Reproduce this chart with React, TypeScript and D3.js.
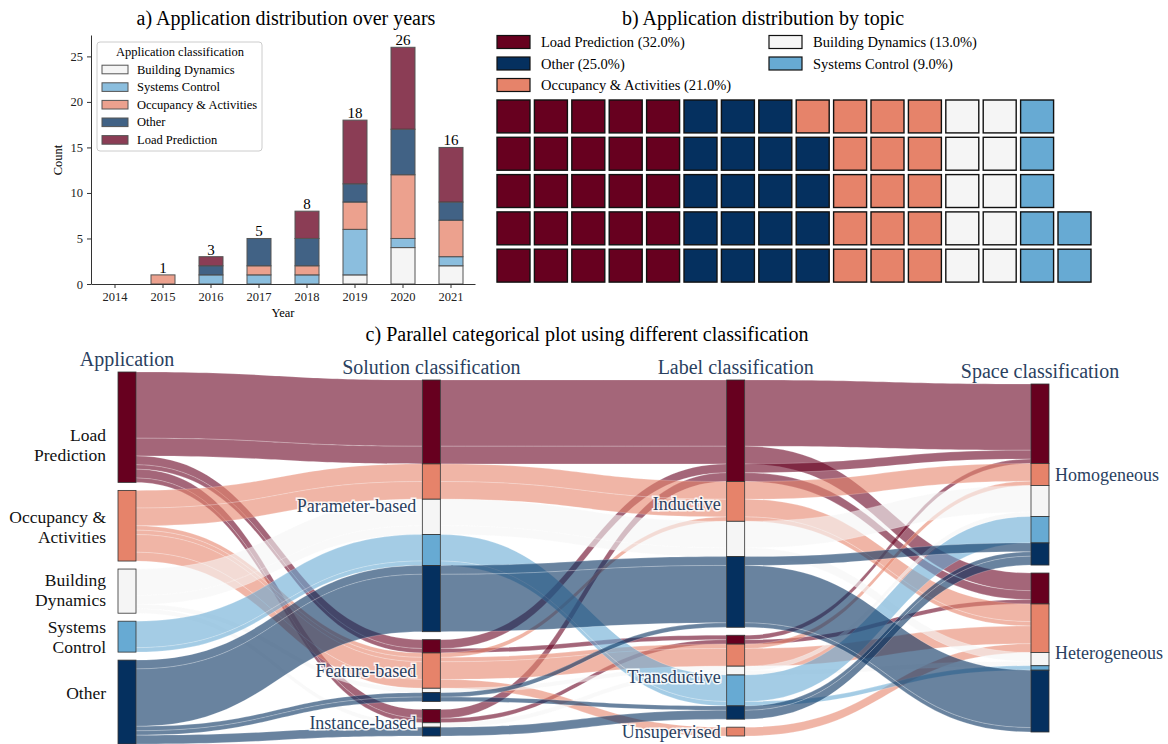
import React, { useEffect, useRef } from 'react';
import * as d3 from 'd3';

// ---- a) application counts per year (stacked) ----
const years = ['2014', '2015', '2016', '2017', '2018', '2019', '2020', '2021'];
const buildingDynamics = [0, 0, 0, 0, 0, 1, 4, 2];
const systemsControl = [0, 0, 1, 1, 1, 5, 1, 1];
const occupancyActivities = [0, 1, 0, 1, 1, 3, 7, 4];
const otherApps = [0, 0, 1, 3, 3, 2, 5, 2];
const loadPrediction = [0, 0, 1, 0, 3, 7, 9, 6];
const totalLabels = ['', '1', '3', '5', '8', '18', '26', '16'];
const yTicks = [0, 5, 10, 15, 20, 25];

// ---- b) waffle ----
const waffleNames = ['Load Prediction', 'Other', 'Occupancy & Activities', 'Building Dynamics', 'Systems Control'];
const wafflePct = ['32.0%', '25.0%', '21.0%', '13.0%', '9.0%'];
const waffleCounts = [25, 19, 16, 10, 7];

// ---- c) parallel categories ----
const appCats = ['Load Prediction', 'Occupancy & Activities', 'Building Dynamics', 'Systems Control', 'Other'];
const solutionCats = ['Parameter-based', 'Feature-based', 'Instance-based'];
const labelCats = ['Inductive', 'Transductive', 'Unsupervised'];
const spaceCats = ['Homogeneous', 'Heterogeneous'];
const dimTitles = ['Application', 'Solution classification', 'Label classification', 'Space classification'];

// application, solution, label, space, number of papers
const paperPaths: [string, string, string, string, number][] = [
  ['Load Prediction', 'Parameter-based', 'Inductive', 'Homogeneous', 15],
  ['Load Prediction', 'Parameter-based', 'Inductive', 'Heterogeneous', 4],
  ['Load Prediction', 'Feature-based', 'Inductive', 'Homogeneous', 2],
  ['Load Prediction', 'Feature-based', 'Transductive', 'Homogeneous', 1],
  ['Load Prediction', 'Instance-based', 'Inductive', 'Heterogeneous', 2],
  ['Load Prediction', 'Instance-based', 'Transductive', 'Heterogeneous', 1],
  ['Occupancy & Activities', 'Parameter-based', 'Inductive', 'Homogeneous', 4],
  ['Occupancy & Activities', 'Parameter-based', 'Inductive', 'Heterogeneous', 4],
  ['Occupancy & Activities', 'Feature-based', 'Inductive', 'Heterogeneous', 1],
  ['Occupancy & Activities', 'Feature-based', 'Transductive', 'Homogeneous', 1],
  ['Occupancy & Activities', 'Feature-based', 'Transductive', 'Heterogeneous', 4],
  ['Occupancy & Activities', 'Feature-based', 'Unsupervised', 'Heterogeneous', 2],
  ['Building Dynamics', 'Parameter-based', 'Inductive', 'Homogeneous', 6],
  ['Building Dynamics', 'Parameter-based', 'Inductive', 'Heterogeneous', 2],
  ['Building Dynamics', 'Feature-based', 'Transductive', 'Homogeneous', 1],
  ['Building Dynamics', 'Instance-based', 'Transductive', 'Heterogeneous', 1],
  ['Systems Control', 'Parameter-based', 'Transductive', 'Homogeneous', 6],
  ['Systems Control', 'Parameter-based', 'Transductive', 'Heterogeneous', 1],
  ['Other', 'Parameter-based', 'Inductive', 'Homogeneous', 2],
  ['Other', 'Parameter-based', 'Inductive', 'Heterogeneous', 13],
  ['Other', 'Feature-based', 'Inductive', 'Heterogeneous', 1],
  ['Other', 'Feature-based', 'Transductive', 'Homogeneous', 1],
  ['Other', 'Instance-based', 'Transductive', 'Homogeneous', 2],
];

const colors: Record<string, string> = {
  'Load Prediction': '#67001f',
  'Occupancy & Activities': '#e6836a',
  'Building Dynamics': '#f5f5f5',
  'Systems Control': '#67aad3',
  'Other': '#05305f',
};

const FONT = "'Liberation Serif', 'Times New Roman', Times, serif";

const App = () => {
  const svgRef = useRef<SVGSVGElement>(null);

  useEffect(() => {
    const svg = d3.select(svgRef.current);
    svg.selectAll('*').remove();

    // ================= a) stacked bars =================
    const stackKeys = ['Building Dynamics', 'Systems Control', 'Occupancy & Activities', 'Other', 'Load Prediction'];
    const series = [buildingDynamics, systemsControl, occupancyActivities, otherApps, loadPrediction];
    const rows = years.map((yr, i) => {
      const r: any = { year: yr };
      stackKeys.forEach((k, j) => (r[k] = series[j][i]));
      return r;
    });
    const stacked = d3.stack().keys(stackKeys)(rows);

    const x = d3.scaleBand().domain(years).range([91, 475]).paddingInner(0.5).paddingOuter(0.25);
    const y = d3.scaleLinear().domain([0, 27.35]).range([284, 35]);

    const ga = svg.append('g');
    ga.append('text').attr('x', 286).attr('y', 25).attr('text-anchor', 'middle')
      .attr('font-size', 20).text('a) Application distribution over years');

    stacked.forEach(layer => {
      ga.append('g').selectAll('rect')
        .data(layer.filter(d => d[1] - d[0] > 0))
        .enter().append('rect')
        .attr('x', d => x(d.data.year as any)!)
        .attr('width', x.bandwidth())
        .attr('y', d => y(d[1]))
        .attr('height', d => y(d[0]) - y(d[1]))
        .attr('fill', colors[layer.key])
        .attr('fill-opacity', layer.key === 'Building Dynamics' ? 1 : 0.76)
        .attr('stroke', '#555')
        .attr('stroke-width', 1);
    });

    years.forEach((yr, i) => {
      if (!totalLabels[i]) return;
      const top = d3.sum(series, s => s[i]);
      ga.append('text').attr('x', x(yr)! + x.bandwidth() / 2).attr('y', y(top) - 2)
        .attr('text-anchor', 'middle').attr('font-size', 15).text(totalLabels[i]);
    });

    const yAxis = ga.append('g').attr('transform', 'translate(91,0)')
      .call(d3.axisLeft(y).tickValues(yTicks).tickSize(4).tickSizeOuter(0).tickPadding(4));
    const xAxis = ga.append('g').attr('transform', 'translate(0,284)')
      .call(d3.axisBottom(x).tickSize(4).tickSizeOuter(0).tickPadding(4));
    [yAxis, xAxis].forEach(a => {
      a.attr('font-family', null);
      a.selectAll('text').attr('font-size', 12.5).attr('fill', '#222');
      a.selectAll('path,line').attr('stroke', '#333');
    });

    ga.append('text').attr('transform', 'translate(58,160) rotate(-90)').attr('text-anchor', 'middle')
      .attr('dominant-baseline', 'central').attr('font-size', 12.5).text('Count');
    ga.append('text').attr('x', 283).attr('y', 313).attr('text-anchor', 'middle')
      .attr('dominant-baseline', 'central').attr('font-size', 12.5).text('Year');

    // legend
    const lg = ga.append('g');
    lg.append('rect').attr('x', 97).attr('y', 42).attr('width', 165).attr('height', 109).attr('rx', 3)
      .attr('fill', '#fff').attr('fill-opacity', 0.85).attr('stroke', '#ccc');
    lg.append('text').attr('x', 180).attr('y', 52).attr('text-anchor', 'middle')
      .attr('dominant-baseline', 'central').attr('font-size', 12.5).text('Application classification');
    stackKeys.forEach((k, i) => {
      const cy = 69.5 + i * 17.6;
      lg.append('rect').attr('x', 102).attr('y', cy - 4.3).attr('width', 26).attr('height', 8.6)
        .attr('fill', colors[k]).attr('fill-opacity', k === 'Building Dynamics' ? 1 : 0.76)
        .attr('stroke', '#555');
      lg.append('text').attr('x', 137).attr('y', cy).attr('dominant-baseline', 'central')
        .attr('font-size', 12.5).text(k);
    });

    // ================= b) waffle =================
    const gb = svg.append('g');
    gb.append('text').attr('x', 763).attr('y', 25).attr('text-anchor', 'middle')
      .attr('font-size', 20).text('b) Application distribution by topic');

    const legendPos = [[497, 42], [497, 63.5], [497, 85], [769, 42], [769, 63.5]];
    waffleNames.forEach((n, i) => {
      const [lx, ly] = legendPos[i];
      gb.append('rect').attr('x', lx).attr('y', ly - 6.5).attr('width', 33).attr('height', 13)
        .attr('fill', colors[n]).attr('stroke', '#111').attr('stroke-width', 1.2);
      gb.append('text').attr('x', lx + 44).attr('y', ly).attr('dominant-baseline', 'central')
        .attr('font-size', 14.5).text(`${n} (${wafflePct[i]})`);
    });

    const nRows = 5;
    const cells: string[] = [];
    waffleNames.forEach((n, i) => d3.range(waffleCounts[i]).forEach(() => cells.push(n)));
    const nCols = Math.ceil(cells.length / nRows);
    const colX = d3.scaleBand<number>().domain(d3.range(nCols)).range([494.8, 1093.2]).paddingInner(0.118).paddingOuter(0.059);
    const rowY = d3.scaleBand<number>().domain(d3.range(nRows)).range([97.8, 284.3]).paddingInner(0.118).paddingOuter(0.059);
    gb.append('g').selectAll('rect').data(cells).enter().append('rect')
      .attr('x', (_, i) => colX(Math.floor(i / nRows))!)
      .attr('y', (_, i) => rowY(nRows - 1 - (i % nRows))!)
      .attr('width', colX.bandwidth()).attr('height', rowY.bandwidth())
      .attr('fill', d => colors[d]).attr('stroke', '#111').attr('stroke-width', 1.4);

    // ================= c) parallel categories =================
    const gc = svg.append('g');
    gc.append('text').attr('x', 587).attr('y', 341).attr('text-anchor', 'middle')
      .attr('font-size', 20)
      .text('c) Parallel categorical plot using different classification');

    const dims = [appCats, solutionCats, labelCats, spaceCats];
    const paths = paperPaths.map(p => ({
      app: p[0],
      cats: dims.map((cats, d) => cats.indexOf(p[d] as string)),
      n: p[4],
      ys: [] as number[],
    }));
    paths.sort((a, b) => {
      for (let d = 0; d < 4; d++) if (a.cats[d] !== b.cats[d]) return a.cats[d] - b.cats[d];
      return 0;
    });

    const total = d3.sum(paths, p => p.n);
    const barW = 18, gap = 8, centerY = 558, maxH = 372;
    const maxCats = d3.max(dims, c => c.length)!;
    const k = (maxH - (maxCats - 1) * gap) / total;
    const xDim = d3.scalePoint<number>().domain(d3.range(4)).range([118, 1031]);

    const catTop: number[][] = dims.map((cats, d) => {
      const h = total * k + (cats.length - 1) * gap;
      let cur = centerY - h / 2;
      return cats.map((_, c) => {
        const top = cur;
        cur += d3.sum(paths.filter(p => p.cats[d] === c), p => p.n) * k + gap;
        return top;
      });
    });
    dims.forEach((cats, d) => {
      const cursor = catTop[d].slice();
      paths.forEach(p => {
        p.ys[d] = cursor[p.cats[d]];
        cursor[p.cats[d]] += p.n * k;
      });
    });

    // ribbons
    const ribbon = (x0: number, y0: number, x1: number, y1: number, h: number) => {
      const m = (x0 + x1) / 2;
      return `M${x0},${y0}C${m},${y0} ${m},${y1} ${x1},${y1}L${x1},${y1 + h}C${m},${y1 + h} ${m},${y0 + h} ${x0},${y0 + h}Z`;
    };
    const gr = gc.append('g');
    paths.forEach(p => {
      for (let d = 0; d < 3; d++) {
        gr.append('path')
          .attr('d', ribbon(xDim(d)! + barW, p.ys[d], xDim(d + 1)!, p.ys[d + 1], p.n * k))
          .attr('fill', colors[p.app])
          .attr('fill-opacity', 0.6)
          .attr('stroke', '#fff')
          .attr('stroke-opacity', 0.35)
          .attr('stroke-width', 0.6);
      }
    });

    // category bars split by colour
    dims.forEach((cats, d) => {
      cats.forEach((_, c) => {
        const inCat = paths.filter(p => p.cats[d] === c);
        const byApp = d3.rollups(inCat, v => d3.sum(v, p => p.n), p => p.cats[0]).sort((a, b) => a[0] - b[0]);
        let cur = catTop[d][c];
        byApp.forEach(([ai, n]) => {
          gc.append('rect').attr('x', xDim(d)!).attr('y', cur).attr('width', barW).attr('height', n * k)
            .attr('fill', colors[appCats[ai]]).attr('stroke', '#333').attr('stroke-width', 0.8);
          cur += n * k;
        });
      });
    });

    // dimension titles
    dims.forEach((_, d) => {
      gc.append('text').attr('x', xDim(d)! + barW / 2).attr('y', catTop[d][0] - 6)
        .attr('text-anchor', 'middle').attr('font-size', 20).attr('fill', '#2a3f5f').text(dimTitles[d]);
    });

    // category labels
    const appLines = [['Load', 'Prediction'], ['Occupancy &', 'Activities'], ['Building', 'Dynamics'], ['Systems', 'Control'], ['Other']];
    const appOffsets = [18, 1, -1.5, 0, -9];
    dims.forEach((cats, d) => {
      cats.forEach((name, c) => {
        const n = d3.sum(paths.filter(p => p.cats[d] === c), p => p.n);
        const mid = catTop[d][c] + (n * k) / 2;
        if (d === 0) {
          const lines = appLines[c];
          lines.forEach((ln, li) => {
            gc.append('text').attr('x', xDim(0)! - 12).attr('y', mid + appOffsets[c] + (li - (lines.length - 1) / 2) * 20)
              .attr('text-anchor', 'end').attr('dominant-baseline', 'central')
              .attr('font-size', 17.5).attr('fill', '#111').text(ln);
          });
        } else {
          const last = d === dims.length - 1;
          gc.append('text')
            .attr('x', last ? xDim(d)! + barW + 6 : xDim(d)! - 6)
            .attr('y', mid)
            .attr('text-anchor', last ? 'start' : 'end')
            .attr('dominant-baseline', 'central')
            .attr('font-size', 18)
            .attr('fill', '#2a3f5f')
            .attr('stroke', '#fff').attr('stroke-width', 3).attr('stroke-opacity', 0.85)
            .attr('paint-order', 'stroke')
            .text(name);
        }
      });
    });
  }, []);

  return (
    <svg ref={svgRef} width={1168} height={744}
      style={{ position: 'absolute', left: 0, top: 0, background: '#fff', fontFamily: FONT }} />
  );
};

export default App;
